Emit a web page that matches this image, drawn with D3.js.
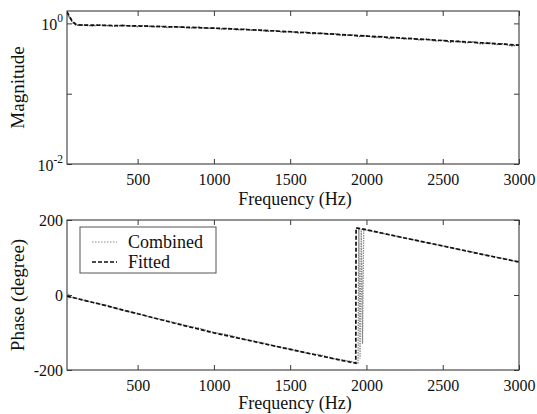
<!DOCTYPE html>
<html>
<head>
<meta charset="utf-8">
<script src="https://cdn.jsdelivr.net/npm/d3@7"></script>
</head>
<body style="margin:0">
<script>
// ---- Data -------------------------------------------------------------
// Frequency axis ticks
const xTicks = [500, 1000, 1500, 2000, 2500, 3000];
const magTicks = [0.01, 0.1, 1];
const phaseTicks = [-200, 0, 200];

// Fitted magnitude response
const fitFreq = [37, 70, 100, 250, 500, 750, 1000, 1250, 1500, 1750, 2000, 2250, 2500, 2750, 3000];
const fitMag  = [1.45, 1.08, 0.95, 0.94, 0.92, 0.89, 0.855, 0.81, 0.76, 0.71, 0.66, 0.615, 0.57, 0.53, 0.49];

// Combined (measured) magnitude response
const combFreq = [37, 50, 75, 100, 150, 200, 250, 300, 350, 400, 450, 500, 550, 600, 650, 700, 750, 800,
  850, 900, 950, 1000, 1050, 1100, 1150, 1200, 1250, 1300, 1350, 1400, 1450, 1500, 1550, 1600, 1650,
  1700, 1750, 1800, 1850, 1900, 1950, 2000, 2050, 2100, 2150, 2200, 2250, 2300, 2350, 2400, 2450,
  2500, 2550, 2600, 2650, 2700, 2750, 2800, 2850, 2900, 2950, 3000];
const combMag = [1.48, 1.25, 1.02, 0.94, 0.95, 0.92, 0.95, 0.93, 0.91, 0.94, 0.92, 0.90, 0.93, 0.89, 0.91,
  0.87, 0.90, 0.88, 0.86, 0.88, 0.85, 0.86, 0.83, 0.85, 0.81, 0.83, 0.80, 0.81, 0.77, 0.79, 0.75,
  0.77, 0.73, 0.75, 0.71, 0.73, 0.70, 0.71, 0.67, 0.69, 0.65, 0.67, 0.63, 0.65, 0.61, 0.63, 0.60,
  0.61, 0.58, 0.60, 0.56, 0.575, 0.54, 0.56, 0.53, 0.545, 0.51, 0.53, 0.50, 0.515, 0.48, 0.49];

// Fitted phase response (degrees, wrapped)
const fitPhaseFreq = [37, 250, 500, 750, 1000, 1250, 1500, 1750, 1930, 1932, 2000, 2250, 2500, 2750, 3000];
const fitPhase     = [-3, -24, -50, -76, -101, -123, -145, -167, -182, 179, 174, 152, 131, 109, 88];

// Combined (measured) phase response (degrees, wrapped)
const combPhaseFreq = [37, 42, 47, 55, 70, 100, 200, 300, 400, 500, 600, 700, 800, 900, 1000, 1100,
  1200, 1300, 1400, 1500, 1600, 1700, 1800, 1900, 1945, 1950, 1958, 1966, 1974, 1982, 2000, 2100,
  2200, 2300, 2400, 2500, 2600, 2700, 2800, 2900, 3000];
const combPhase = [3, -12, 4, -7, -6, -9, -20, -28, -41, -49, -61, -69, -80, -88, -100, -107,
  -118, -126, -136, -144, -154, -160, -171, -177, -183, 178, -170, 176, -130, 175, 173, 165,
  156, 148, 139, 131, 122, 114, 105, 97, 88];

const legendLabels = ["Combined", "Fitted"];

// ---- Layout ------------------------------------------------------------
const W = 537, H = 414;
const left = 67, right = 519;
const top1 = 11, bot1 = 164;
const top2 = 220, bot2 = 370;
const xDomain = [37, 3000];
const FACE = "Liberation Serif";

const svg = d3.select("body").append("svg").attr("width", W).attr("height", H)
  .style("display", "block").attr("font-family", FACE);

const x1 = d3.scaleLinear().domain(xDomain).range([left, right]);
const yMag = d3.scaleLog().domain([0.01, 1.5]).range([bot1, top1]);
const yPh = d3.scaleLinear().domain([-200, 200]).range([bot2, top2]);

const defs = svg.append("defs");
defs.append("clipPath").attr("id", "clipMag").append("rect")
  .attr("x", left).attr("y", top1).attr("width", right - left).attr("height", bot1 - top1);
defs.append("clipPath").attr("id", "clipPh").append("rect")
  .attr("x", left).attr("y", top2).attr("width", right - left).attr("height", bot2 - top2);

const spine = "#3a3a3a";
const tickLen = 5;
const tickFont = 16;
const labelFont = 18;

// plain text helper: every label goes through here
function label(g, txt, size) {
  return g.append("text").style("font-family", `"${FACE}"`).attr("font-size", size)
    .attr("fill", "#111").text(txt);
}

function frame(g, yScale, yTickVals, top, bot) {
  // bottom axis: tick marks, labels drawn as plain text
  const ax = g.append("g").attr("transform", `translate(0,${bot})`)
    .call(d3.axisBottom(x1).tickValues(xTicks).tickSize(-tickLen).tickFormat(""));
  ax.selectAll(".tick").each(function(d) {
    label(d3.select(this), String(d), tickFont).attr("y", 21).attr("text-anchor", "middle");
  });
  // top mirrored ticks
  g.append("g").attr("transform", `translate(0,${top})`)
    .call(d3.axisTop(x1).tickValues(xTicks).tickSize(-tickLen).tickFormat(""));
  // left axis ticks
  const ay = g.append("g").attr("class", "yleft").attr("transform", `translate(${left},0)`)
    .call(d3.axisLeft(yScale).tickValues(yTickVals).tickSize(-tickLen).tickFormat(""));
  // right mirrored ticks
  g.append("g").attr("transform", `translate(${right},0)`)
    .call(d3.axisRight(yScale).tickValues(yTickVals).tickSize(-tickLen).tickFormat(""));
  g.selectAll(".domain").remove();
  g.selectAll(".tick line").attr("stroke", spine).attr("stroke-width", 1);
  g.selectAll("g").attr("font-family", FACE);
  g.append("rect").attr("x", left).attr("y", top).attr("width", right - left)
    .attr("height", bot - top).attr("fill", "none").attr("stroke", spine).attr("stroke-width", 1.1);
  return ay;
}

// ---- Magnitude panel ---------------------------------------------------
const gMag = svg.append("g");
const ayMag = frame(gMag, yMag, magTicks, top1, bot1);
// power-of-ten labels
ayMag.selectAll(".tick").each(function(d) {
  const e = Math.round(Math.log10(d));
  if (e === -1) return;
  const t = label(d3.select(this), null, tickFont).attr("x", -4).attr("y", 6)
    .attr("text-anchor", "end");
  t.append("tspan").text("10");
  t.append("tspan").attr("dy", -8).attr("font-size", 11.5).text(String(e));
});

const lineMag = d3.line().x(d => x1(d[0])).y(d => yMag(d[1]));
const gMagLines = gMag.append("g").attr("clip-path", "url(#clipMag)");
gMagLines.append("path").datum(d3.zip(combFreq, combMag)).attr("d", lineMag)
  .attr("fill", "none").attr("stroke", "#555").attr("stroke-width", 1.4)
  .attr("stroke-dasharray", "1.5,1");
gMagLines.append("path").datum(d3.zip(fitFreq, fitMag)).attr("d", lineMag)
  .attr("fill", "none").attr("stroke", "#111").attr("stroke-width", 1.7)
  .attr("stroke-dasharray", "4,2");

label(gMag, "Frequency (Hz)", labelFont).attr("x", (left + right) / 2 + 2).attr("y", 205)
  .attr("text-anchor", "middle");
label(gMag, "Magnitude", labelFont + 1).attr("transform", `translate(24,${(top1 + bot1) / 2}) rotate(-90)`)
  .attr("text-anchor", "middle");

// ---- Phase panel -------------------------------------------------------
const gPh = svg.append("g");
const ayPh = frame(gPh, yPh, phaseTicks, top2, bot2);
ayPh.selectAll(".tick").each(function(d) {
  label(d3.select(this), String(d), tickFont).attr("x", -4).attr("y", 5.5)
    .attr("text-anchor", "end");
});

const linePh = d3.line().x(d => x1(d[0])).y(d => yPh(d[1]));
const gPhLines = gPh.append("g").attr("clip-path", "url(#clipPh)");
gPhLines.append("path").datum(d3.zip(combPhaseFreq, combPhase)).attr("d", linePh)
  .attr("fill", "none").attr("stroke", "#8a8a8a").attr("stroke-width", 1.3)
  .attr("stroke-dasharray", "1.5,1");
gPhLines.append("path").datum(d3.zip(fitPhaseFreq, fitPhase)).attr("d", linePh)
  .attr("fill", "none").attr("stroke", "#111").attr("stroke-width", 1.7)
  .attr("stroke-dasharray", "4,2");

label(gPh, "Frequency (Hz)", labelFont).attr("x", (left + right) / 2 + 2).attr("y", 409)
  .attr("text-anchor", "middle");
label(gPh, "Phase (degree)", labelFont + 1).attr("transform", `translate(24,${(top2 + bot2) / 2}) rotate(-90)`)
  .attr("text-anchor", "middle");

// ---- Legend ------------------------------------------------------------
const leg = gPh.append("g");
leg.append("rect").attr("x", 80).attr("y", 227).attr("width", 136).attr("height", 46)
  .attr("fill", "#fff").attr("stroke", "#555").attr("stroke-width", 1);
const legStyles = [
  { stroke: "#8a8a8a", dash: "1.5,1.5", w: 1.2 },
  { stroke: "#111", dash: "4,2", w: 1.7 }
];
legendLabels.forEach((lab, i) => {
  const yy = 242 + i * 20;
  leg.append("line").attr("x1", 92).attr("x2", 117).attr("y1", yy).attr("y2", yy)
    .attr("stroke", legStyles[i].stroke).attr("stroke-width", legStyles[i].w)
    .attr("stroke-dasharray", legStyles[i].dash);
  label(leg, lab, labelFont).attr("x", 128).attr("y", yy + 5.5);
});
</script>
</body>
</html>
